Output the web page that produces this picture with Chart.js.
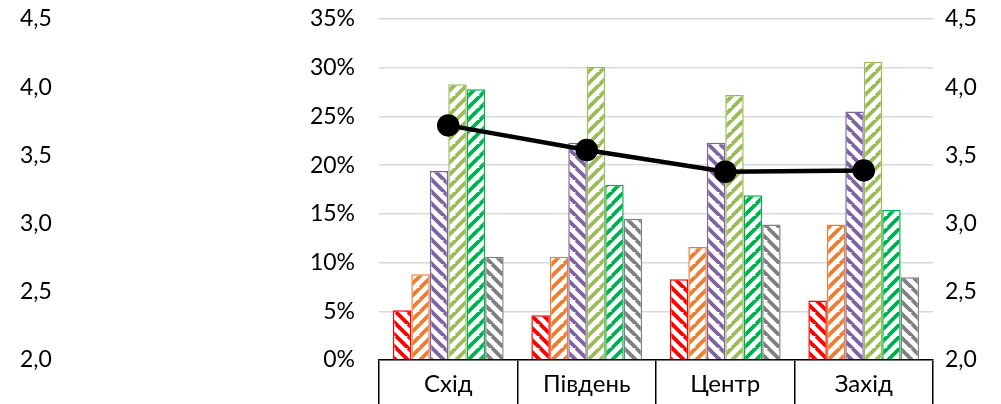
<!DOCTYPE html>
<html>
<head>
<meta charset="utf-8">
<script src="https://cdn.jsdelivr.net/npm/chart.js@4"></script>
<style>
  html, body { margin: 0; padding: 0; background: #fff; }
  #wrap { width: 1001px; height: 404px; }
</style>
</head>
<body>
<div id="wrap"><canvas id="c" width="1001" height="404"></canvas></div>
<script>
// ── data ─────────────────────────────────────────────
const regions   = ['Схід', 'Південь', 'Центр', 'Захід'];
const s1 = [5.1, 4.6, 8.3, 6.1];
const s2 = [8.8, 10.6, 11.6, 13.9];
const s3 = [19.4, 22.3, 22.3, 25.5];
const s4 = [28.3, 30.1, 27.2, 30.6];
const s5 = [27.8, 18.0, 16.9, 15.4];
const s6 = [10.6, 14.5, 13.9, 8.5];
const avgScore  = [3.72, 3.54, 3.38, 3.39];

const FONT = 'Lato, "Open Sans", sans-serif';

// hatch pattern: white tile with thick diagonal stripes
function hatch(color, dir) {
  const T = 12;
  const c = document.createElement('canvas');
  c.width = T; c.height = T;
  const g = c.getContext('2d');
  g.fillStyle = '#fff';
  g.fillRect(0, 0, T, T);
  g.strokeStyle = color;
  g.lineWidth = 3.8;
  g.beginPath();
  for (let k = -T; k <= 2 * T; k += T) {
    if (dir === '/') { g.moveTo(k - T, T); g.lineTo(k + T, -T); }
    else             { g.moveTo(k - T, 0); g.lineTo(k + T, 2 * T); }
  }
  g.stroke();
  return g.createPattern(c, 'repeat');
}

function barSet(data, color, dir) {
  return {
    type: 'bar', data, yAxisID: 'y', order: 1,
    backgroundColor: hatch(color, dir),
    borderColor: color, borderWidth: 1.5,
    categoryPercentage: 0.8, barPercentage: 1.0,
  };
}

const comma = v => v.toFixed(1).replace('.', ',');

new Chart(document.getElementById('c').getContext('2d'), {
  data: {
    labels: regions,
    datasets: [
      barSet(s1, '#FF0000', '\\'),
      barSet(s2, '#ED7D31', '/'),
      barSet(s3, '#8064A2', '\\'),
      barSet(s4, '#9BBB59', '/'),
      barSet(s5, '#00B050', '/'),
      barSet(s6, '#808080', '\\'),
      {
        type: 'line', data: avgScore, yAxisID: 'yR', order: 0,
        borderColor: '#000', borderWidth: 4.5,
        pointRadius: 9, pointBackgroundColor: '#000', pointBorderColor: '#000',
      },
    ],
  },
  options: {
    responsive: false, animation: false,
    layout: {padding: {left: 20, right: 0, top: 19, bottom: 0}},
    plugins: {legend: {display: false}, tooltip: {enabled: false}},
    scales: {
      x: {
        grid: {offset: true, drawOnChartArea: false, tickLength: 44, color: '#000', lineWidth: 1.5},
        border: {color: '#000', width: 1.5},
        ticks: {color: '#000', font: {family: FONT, size: 24}, padding: -34},
        afterFit: s => { s.height = 44; },
      },
      y: {
        position: 'left', weight: 0,
        min: 0, max: 35,
        // invisible tick marks push labels away from the plot edge
        grid: {color: '#d9d9d9', lineWidth: 1.5, tickLength: 24, tickColor: 'rgba(0,0,0,0)'},
        border: {display: false},
        ticks: {stepSize: 5, padding: 0, color: '#000', font: {family: FONT, size: 23},
                callback: v => v + '%'},
        afterFit: s => { s.width = 159; },
      },
      yL: {
        position: 'left', weight: 1,
        min: 2, max: 4.5,
        grid: {display: false}, border: {display: false},
        ticks: {stepSize: 0.5, padding: 0, crossAlign: 'far', color: '#000', font: {family: FONT, size: 23},
                callback: comma},
        afterFit: s => { s.width = 200; },
      },
      yR: {
        position: 'right',
        min: 2, max: 4.5,
        grid: {drawOnChartArea: false, tickLength: 12, tickColor: 'rgba(0,0,0,0)'},
        border: {display: false},
        ticks: {stepSize: 0.5, padding: 0, color: '#000', font: {family: FONT, size: 23},
                callback: comma},
        afterFit: s => { s.width = 68; },
      },
    },
  },
});
</script>
</body>
</html>
